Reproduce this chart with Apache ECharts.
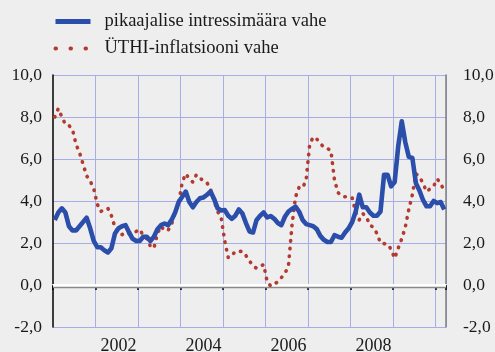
<!DOCTYPE html>
<html>
<head>
<meta charset="utf-8">
<script src="https://cdn.jsdelivr.net/npm/echarts@6/dist/echarts.min.js"></script>
<style>
  html, body { margin: 0; padding: 0; background: #eeeeee; }
  #chart { width: 495px; height: 352px; }
</style>
</head>
<body>
<div id="chart"></div>
<script>
// Monthly observations, January 2001 – March 2010
const startYear = 2001;
const monthCount = 111;
const months = [];
for (let i = 0; i < monthCount; i++) {
  const y = startYear + Math.floor(i / 12);
  const m = (i % 12) + 1;
  months.push(y + '-' + (m < 10 ? '0' + m : m));
}

// Long-term interest rate spread, percentage points
const interestSpread = [
  3.1, 3.45, 3.65, 3.45, 2.8, 2.6, 2.6, 2.8, 3.0, 3.2, 2.7, 2.1,
  1.8, 1.8, 1.65, 1.55, 1.75, 2.45, 2.7, 2.8, 2.85, 2.5, 2.2, 2.1,
  2.1, 2.3, 2.3, 2.1, 2.3, 2.65, 2.85, 2.93, 2.85, 3.1, 3.45, 3.95,
  4.2, 4.45, 3.95, 3.7, 3.95, 4.13, 4.17, 4.3, 4.45, 4.1, 3.65, 3.55,
  3.57, 3.3, 3.15, 3.3, 3.6, 3.4, 2.95, 2.55, 2.5, 3.1, 3.3, 3.45,
  3.22, 3.28, 3.15, 2.95, 2.85, 3.25, 3.5, 3.62, 3.73, 3.5, 3.1, 2.9,
  2.85, 2.8, 2.66, 2.34, 2.15, 2.05, 2.05, 2.37, 2.3, 2.25, 2.5, 2.7,
  3.0, 3.5, 4.3, 3.7, 3.7, 3.45, 3.3, 3.3, 3.5, 5.25, 5.25, 4.7,
  4.9, 6.6, 7.8, 6.8, 6.1, 6.05, 4.85, 4.5, 4.05, 3.75, 3.75, 4.0,
  3.9, 3.95, 3.6
];

// HICP inflation spread, percentage points
const inflationSpread = [
  8.0, 8.4, 8.0, 7.65, 7.6, 7.4, 6.7, 6.3, 5.75, 5.2, 4.95, 4.6,
  3.85, 3.5, 3.6, 3.65, 3.3, 2.75, 2.45, 2.4, 2.5, 2.45, 2.45, 2.55,
  2.65, 2.35, 2.2, 1.85, 1.75, 2.45, 2.8, 2.6, 2.6, 2.9, 3.45, 3.9,
  4.9, 5.3, 5.05, 4.9, 5.25, 5.1, 4.95, 4.87, 4.55, 4.0, 3.5, 3.2,
  2.1, 1.3, 1.4, 1.6, 1.6, 1.6, 1.4, 1.15, 0.9, 0.8, 0.9, 0.97,
  0.15, -0.05, 0.05, 0.15, 0.35, 0.55, 0.9, 2.85, 4.2, 4.65, 4.62, 5.0,
  6.7, 7.05, 6.95, 6.75, 6.55, 6.5, 6.4, 5.0, 4.4, 4.25, 4.2, 4.2,
  4.15, 3.45, 3.1, 3.4, 3.25, 2.85, 2.75, 2.45, 2.0, 1.97, 1.95, 1.7,
  1.27, 1.75, 2.2, 2.75, 3.6, 4.3, 5.3, 5.15, 4.85, 4.45, 4.58, 4.7,
  5.05, 4.85, 4.45
];

const seriesNames = ['pikaajalise intressimäära vahe', 'ÜTHI-inflatsiooni vahe'];
const yMin = -2, yMax = 10, yStep = 2;

const serif = '"Liberation Serif", "Times New Roman", serif';
const textColor = '#1a1a1a';
const gridColor = '#a7ade6';
const blue = '#2b4eab';
const red = '#b23a2e';
const dotted = [0.5, 7.2];

const yLabel = v => v.toFixed(1).replace('.', ',');

const chart = echarts.init(document.getElementById('chart'), null, { renderer: 'canvas' });

chart.setOption({
  backgroundColor: '#eeeeee',
  animation: false,
  legend: {
    orient: 'vertical',
    left: 53,
    top: 12,
    padding: 0,
    itemWidth: 35,
    itemHeight: 14,
    itemGap: 8,
    itemStyle: { opacity: 0 },
    textStyle: { fontFamily: serif, fontSize: 18.5, lineHeight: 14, color: textColor, padding: [0, 0, 0, 9] },
    data: [
      { name: seriesNames[0], lineStyle: { color: blue, width: 5, type: 'solid' } },
      { name: seriesNames[1], lineStyle: { color: red, width: 4, type: [0.5, 14.5], cap: 'round' } }
    ]
  },
  grid: { left: 53, right: 49, top: 75, bottom: 25, containLabel: false, outerBoundsMode: 'none' },
  xAxis: {
    type: 'category',
    data: months,
    boundaryGap: true,
    axisLine: { show: true, lineStyle: { color: '#ffffff', width: 2 } },
    axisTick: {
      show: true,
      length: 5,
      interval: (idx) => idx % 12 === 0,
      lineStyle: { color: '#000000', width: 1.5 }
    },
    axisLabel: {
      interval: (idx, val) => {
        const y = +val.slice(0, 4), m = +val.slice(5);
        return m === 7 && y % 2 === 0;
      },
      formatter: (val) => val.slice(0, 4),
      fontFamily: serif, fontSize: 18, color: textColor, margin: 10
    },
    splitLine: {
      show: true,
      interval: (idx) => idx % 12 === 0 && idx > 0,
      lineStyle: { color: gridColor, width: 1 }
    }
  },
  yAxis: [
    {
      type: 'value', min: yMin, max: yMax, interval: yStep, position: 'left',
      axisLine: { show: true, onZero: false, lineStyle: { color: '#000000', width: 1.5 } },
      axisTick: { show: false },
      axisLabel: { formatter: yLabel, fontFamily: serif, fontSize: 17.5, color: textColor, margin: 11 },
      splitLine: { show: true, lineStyle: { color: gridColor, width: 1 } }
    },
    {
      type: 'value', min: yMin, max: yMax, interval: yStep, position: 'right',
      axisLine: { show: true, onZero: false, lineStyle: { color: '#808080', width: 1.5 } },
      axisTick: { show: false },
      axisLabel: { formatter: yLabel, fontFamily: serif, fontSize: 17.5, color: textColor, margin: 17 },
      splitLine: { show: false }
    }
  ],
  series: [
    {
      name: seriesNames[0],
      type: 'line',
      data: interestSpread,
      symbol: 'none',
      z: 4,
      color: blue,
      lineStyle: { color: blue, width: 4.6, join: 'round' },
      markLine: {
        silent: true,
        symbol: 'none',
        label: { show: false },
        lineStyle: {
          color: '#ffffff', width: 2.5, type: 'solid',
          shadowColor: '#8a8a8a', shadowBlur: 0, shadowOffsetY: 1.5
        },
        z: 1,
        data: [{ yAxis: 0 }]
      }
    },
    {
      name: seriesNames[1],
      type: 'line',
      data: inflationSpread,
      symbol: 'none',
      z: 3,
      color: red,
      lineStyle: { color: red, width: 3.6, type: dotted, cap: 'round', join: 'round' }
    }
  ]
});
</script>
</body>
</html>
